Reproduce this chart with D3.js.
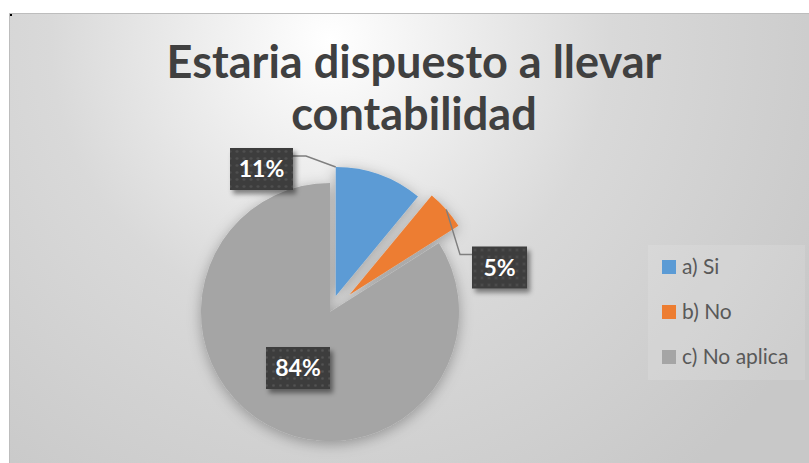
<!DOCTYPE html>
<html>
<head>
<meta charset="utf-8">
<script src="https://cdn.jsdelivr.net/npm/d3@7"></script>
<style>
  body { margin: 0; background: #fff; }
  svg { display: block; }
</style>
</head>
<body>
<div class="canvas"></div>
<script>
// data
const categories = ['a) Si', 'b) No', 'c) No aplica'];
const values = [11, 5, 84];
const labels = ['11%', '5%', '84%'];
const colors = ['#5b9bd5', '#ed7d31', '#a5a5a5'];
const titleLines = ['Estaria dispuesto a llevar', 'contabilidad'];

const dimension = { width: 809, height: 463 };
const center = { x: 330, y: 312 };
const radius = 129;
const explode = [17, 26, 0];

const svg = d3
  .select('.canvas')
  .append('svg')
  .attr('width', dimension.width)
  .attr('height', dimension.height);

const defs = svg.append('defs');

// background gradient
const grad = defs
  .append('radialGradient')
  .attr('id', 'bg')
  .attr('gradientUnits', 'userSpaceOnUse')
  .attr('cx', 330)
  .attr('cy', 40)
  .attr('r', 560);
grad.append('stop').attr('offset', 0).attr('stop-color', '#ffffff');
grad.append('stop').attr('offset', 0.5).attr('stop-color', '#d9d9d9');
grad.append('stop').attr('offset', 1).attr('stop-color', '#c8c8c8');

// pie shadow
const pieShadow = defs
  .append('filter')
  .attr('id', 'pieShadow')
  .attr('x', '-30%')
  .attr('y', '-30%')
  .attr('width', '160%')
  .attr('height', '160%');
pieShadow
  .append('feDropShadow')
  .attr('dx', 0)
  .attr('dy', 3)
  .attr('stdDeviation', 7)
  .attr('flood-color', '#000')
  .attr('flood-opacity', 0.3);

// label shadow
const boxShadow = defs
  .append('filter')
  .attr('id', 'boxShadow')
  .attr('x', '-30%')
  .attr('y', '-30%')
  .attr('width', '160%')
  .attr('height', '160%');
boxShadow
  .append('feDropShadow')
  .attr('dx', 3)
  .attr('dy', 4)
  .attr('stdDeviation', 2.5)
  .attr('flood-color', '#000')
  .attr('flood-opacity', 0.45);

// dotted label fill
const pat = defs
  .append('pattern')
  .attr('id', 'dots')
  .attr('patternUnits', 'userSpaceOnUse')
  .attr('width', 7)
  .attr('height', 7);
pat.append('rect').attr('width', 7).attr('height', 7).attr('fill', '#3d3d3d');
pat.append('circle').attr('cx', 3.5).attr('cy', 3.5).attr('r', 1.3).attr('fill', '#535353');

// chart area
svg
  .append('rect')
  .attr('x', 9)
  .attr('y', 13)
  .attr('width', dimension.width - 9)
  .attr('height', dimension.height - 13)
  .attr('fill', 'url(#bg)');
svg
  .append('path')
  .attr('d', `M9.5,${dimension.height}V13.5H${dimension.width}`)
  .attr('fill', 'none')
  .attr('stroke', '#bdbdbd');
svg.append('rect').attr('x', 10).attr('y', 14).attr('width', 2).attr('height', 2).attr('fill', '#000');

// title
const title = svg
  .append('text')
  .attr('text-anchor', 'middle')
  .attr('font-family', 'Lato, "Open Sans", sans-serif')
  .attr('font-weight', 'bold')
  .attr('fill', '#404040')
  .attr('font-size', 40);
title
  .selectAll('tspan')
  .data(titleLines)
  .enter()
  .append('tspan')
  .attr('x', 414)
  .attr('y', (d, i) => 78 + i * 52)
  .text(d => d);
// fit the title width
const w0 = title.select('tspan').node().getComputedTextLength();
title.attr('font-size', 40 * 495 / w0);

// pie
const pie = d3
  .pie()
  .sort(null)
  .value(d => d);

const arcPath = d3.arc().innerRadius(0).outerRadius(radius);

const arcs = pie(values);

const offsetOf = (d, i) => {
  const a = (d.startAngle + d.endAngle) / 2;
  return [Math.sin(a) * explode[i], -Math.cos(a) * explode[i]];
};

const graph = svg
  .append('g')
  .attr('transform', `translate(${center.x}, ${center.y})`)
  .attr('filter', 'url(#pieShadow)');

graph
  .selectAll('path')
  .data(arcs)
  .enter()
  .append('path')
  .attr('d', arcPath)
  .attr('fill', (d, i) => colors[i])
  .attr('transform', (d, i) => `translate(${offsetOf(d, i)})`);

// data labels: box centre offsets from pie centre, leader target as fraction of slice
const labelLayout = [
  { dx: -68.5, dy: -143, w: 63, h: 42, leader: 0, side: 'right' },
  { dx: 169.5, dy: -44.5, w: 55, h: 42, leader: 0.5, side: 'left' },
  { dx: -32, dy: 56, w: 64, h: 42, leader: null }
];

const labelGroup = svg.append('g').attr('transform', `translate(${center.x}, ${center.y})`);

arcs.forEach((d, i) => {
  const l = labelLayout[i];
  if (l.leader !== null) {
    const off = offsetOf(d, i);
    const a = d.startAngle + (d.endAngle - d.startAngle) * l.leader;
    const tx = off[0] + Math.sin(a) * radius;
    const ty = off[1] - Math.cos(a) * radius;
    const ex = l.side === 'right' ? l.dx + l.w / 2 : l.dx - l.w / 2;
    const ey = l.dy - l.h / 2 + 8;
    const kx = l.side === 'right' ? ex + 13 : ex - 12;
    labelGroup
      .append('path')
      .attr('d', `M${ex},${ey}H${kx}L${tx},${ty}`)
      .attr('fill', 'none')
      .attr('stroke', '#7f7f7f')
      .attr('stroke-width', 1.4);
  }
});

const boxes = labelGroup
  .selectAll('g.lbl')
  .data(arcs)
  .enter()
  .append('g')
  .attr('class', 'lbl')
  .attr('transform', (d, i) => `translate(${labelLayout[i].dx}, ${labelLayout[i].dy})`);

boxes
  .append('rect')
  .attr('x', (d, i) => -labelLayout[i].w / 2)
  .attr('y', (d, i) => -labelLayout[i].h / 2)
  .attr('width', (d, i) => labelLayout[i].w)
  .attr('height', (d, i) => labelLayout[i].h)
  .attr('fill', 'url(#dots)')
  .attr('filter', 'url(#boxShadow)');

boxes
  .append('text')
  .attr('text-anchor', 'middle')
  .attr('y', 8)
  .attr('font-family', 'Lato, "Open Sans", sans-serif')
  .attr('font-weight', 'bold')
  .attr('font-size', 23)
  .attr('fill', '#fff')
  .text((d, i) => labels[i]);

// legend
const legendGroup = svg.append('g');
legendGroup
  .append('rect')
  .attr('x', 648)
  .attr('y', 245)
  .attr('width', 157)
  .attr('height', 135)
  .attr('fill', '#fff')
  .attr('opacity', 0.12);

const legendY = d3.scalePoint().domain(categories).range([267, 357]);

const items = legendGroup
  .selectAll('g.item')
  .data(categories)
  .enter()
  .append('g')
  .attr('class', 'item')
  .attr('transform', d => `translate(662, ${legendY(d)})`);

items
  .append('rect')
  .attr('y', -7)
  .attr('width', 14)
  .attr('height', 14)
  .attr('fill', (d, i) => colors[i]);

const legendText = items
  .append('text')
  .attr('x', 20)
  .attr('y', 7)
  .attr('font-family', 'Lato, "Open Sans", sans-serif')
  .attr('font-size', 17)
  .attr('fill', '#595959')
  .text(d => d);
// fit legend text width to the longest entry
const lw = legendText.nodes()[2].getComputedTextLength();
legendText.attr('font-size', Math.min(21, 17 * 110 / lw));
</script>
</body>
</html>
